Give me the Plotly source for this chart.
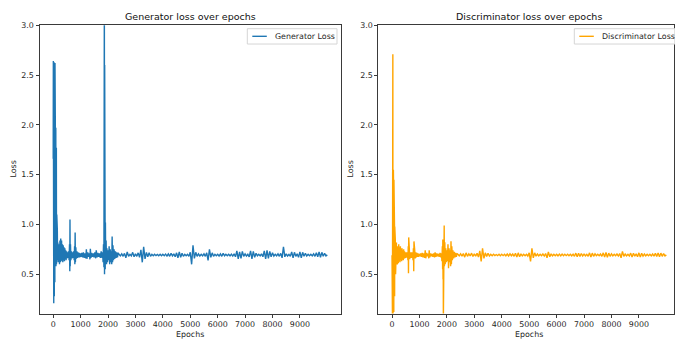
import plotly.graph_objects as go

# ---------------- data ----------------
gen_epochs_early = [0, 5, 10, 15, 20, 25, 30, 35, 40, 45, 50, 55, 60, 65, 70, 75, 80, 85, 90, 95,
                    100, 105, 110, 115, 120, 130, 140, 150, 160, 170, 180, 190,
                    200, 215, 230, 245, 260, 275, 290, 305, 320, 335, 350, 365, 380, 395, 410, 425, 440, 455,
                    470, 485, 500, 520, 540, 560, 580, 595, 605, 612, 620, 630, 645, 665, 685, 705, 725, 745,
                    765, 780, 790, 800, 810, 825, 845, 865, 885, 905, 925, 945, 965, 985,
                    1010, 1040, 1070, 1100, 1130, 1160, 1190, 1210, 1230, 1260, 1290, 1320, 1340, 1355, 1375,
                    1400, 1430, 1460, 1490, 1520, 1550, 1570, 1600, 1630, 1660, 1690, 1720, 1750, 1780, 1800,
                    1820, 1835, 1850, 1860, 1866, 1872, 1878, 1884, 1890, 1897, 1905, 1915, 1930, 1945, 1960,
                    1980, 2000, 2020, 2040, 2060, 2080, 2100, 2120, 2135, 2150, 2165, 2180, 2200, 2220, 2245,
                    2270, 2295, 2320, 2345, 2370]
gen_loss_early = [1.66, 2.64, 0.55, 2.63, 0.21, 2.63, 0.32, 2.62, 0.28, 2.62, 0.38, 2.61, 0.42, 2.62, 0.50, 2.10,
                  0.55, 1.60, 0.60, 1.97, 0.58, 1.30, 0.62, 1.77, 0.60, 1.10, 0.62, 0.95, 0.64, 0.82, 0.62, 0.80,
                  0.63, 0.80, 0.60, 0.84, 0.62, 0.86, 0.63, 0.84, 0.64, 0.80, 0.62, 0.79, 0.64, 0.77, 0.63, 0.76,
                  0.65, 0.74, 0.64, 0.73, 0.66, 0.72, 0.665, 0.73, 0.64, 0.80, 0.53, 1.05, 0.58, 0.80, 0.64, 0.73,
                  0.66, 0.72, 0.665, 0.73, 0.64, 0.78, 0.60, 0.92, 0.62, 0.77, 0.655, 0.73, 0.665, 0.72, 0.67,
                  0.715, 0.67, 0.71,
                  0.675, 0.715, 0.67, 0.72, 0.665, 0.71, 0.66, 0.75, 0.655, 0.72, 0.675, 0.71, 0.65, 0.755, 0.665,
                  0.715, 0.675, 0.71, 0.67, 0.72, 0.66, 0.74, 0.67, 0.715, 0.675, 0.71, 0.665, 0.73, 0.665, 0.72,
                  0.62, 0.80, 0.57, 1.30, 3.40, 0.50, 2.60, 0.60, 1.78, 0.55, 1.02, 0.60, 0.84, 0.60, 0.76,
                  0.62, 0.74, 0.64, 0.78, 0.60, 0.75, 0.62, 0.73, 0.60, 0.88, 0.62, 0.79, 0.64, 0.75, 0.655,
                  0.73, 0.665, 0.72, 0.67, 0.715]
gen_loss_late = [0.70, 0.685, 0.705, 0.68, 0.71, 0.665, 0.725, 0.68, 0.70, 0.685,
                 0.72, 0.675, 0.705, 0.68, 0.715, 0.67, 0.745, 0.62, 0.775, 0.655,
                 0.72, 0.675, 0.715, 0.68, 0.70, 0.685, 0.70, 0.687, 0.698, 0.686,
                 0.70, 0.685, 0.70, 0.686, 0.702, 0.683, 0.705, 0.68, 0.71, 0.685,
                 0.705, 0.675, 0.715, 0.665, 0.725, 0.67, 0.71, 0.68, 0.70, 0.685,
                 0.70, 0.68, 0.72, 0.60, 0.79, 0.66, 0.72, 0.68, 0.705, 0.683,
                 0.70, 0.685, 0.705, 0.68, 0.715, 0.64, 0.75, 0.67, 0.715, 0.68,
                 0.70, 0.685, 0.70, 0.683, 0.705, 0.68, 0.71, 0.685, 0.70, 0.686,
                 0.70, 0.685, 0.702, 0.683, 0.705, 0.675, 0.735, 0.655, 0.725, 0.66,
                 0.73, 0.68, 0.705, 0.683, 0.70, 0.675, 0.735, 0.655, 0.73, 0.67,
                 0.71, 0.685, 0.70, 0.684, 0.705, 0.675, 0.735, 0.655, 0.74, 0.66,
                 0.73, 0.675, 0.715, 0.683, 0.70, 0.685, 0.705, 0.68, 0.71, 0.665,
                 0.775, 0.675, 0.705, 0.683, 0.70, 0.68, 0.725, 0.665, 0.72, 0.68,
                 0.705, 0.67, 0.725, 0.665, 0.72, 0.68, 0.71, 0.683, 0.70, 0.685,
                 0.70, 0.684, 0.705, 0.68, 0.715, 0.675, 0.725, 0.67, 0.72, 0.68,
                 0.71, 0.685, 0.695]

disc_epochs_early = [0, 4, 8, 12, 16, 20, 25, 30, 35, 40, 45, 50, 55, 60, 65, 70, 75, 80, 85, 90, 95,
                     100, 105, 110, 115, 120, 130, 140, 150, 160, 170, 180, 190,
                     200, 215, 230, 245, 260, 275, 290, 305, 320, 335, 350, 365, 380, 395, 410, 425, 440, 455,
                     470, 485, 500, 520, 540, 560, 580, 592, 600, 608, 618, 630, 645, 665, 685, 705, 725, 745,
                     765, 780, 792, 800, 812, 825, 845, 865, 885, 905, 925, 945, 965, 985,
                     1010, 1040, 1070, 1100, 1130, 1160, 1190, 1210, 1230, 1260, 1290, 1320, 1340, 1355, 1375,
                     1400, 1430, 1460, 1490, 1520, 1550, 1570, 1600, 1630, 1660, 1690, 1720, 1750, 1780, 1800,
                     1820, 1835, 1845, 1852, 1860, 1866, 1872, 1880, 1888, 1895, 1902, 1910, 1925, 1940, 1960,
                     1980, 2000, 2020, 2040, 2060, 2080, 2100, 2120, 2135, 2150, 2165, 2180, 2200, 2220, 2245,
                     2270, 2295, 2320, 2345, 2370]
disc_loss_early = [0.69, 1.88, 0.12, 1.50, 0.05, 1.70, 0.08, 2.71, 0.06, 1.52, 0.10, 1.55, 0.14, 1.30, 0.12,
                   1.45, 0.20, 1.10, 0.25, 1.00, 0.28, 0.98, 0.30, 0.90, 0.45, 0.85, 0.50, 0.80, 0.55, 0.82,
                   0.60, 0.78, 0.60,
                   0.62, 0.78, 0.61, 0.80, 0.63, 0.77, 0.62, 0.78, 0.64, 0.76, 0.63, 0.76, 0.645, 0.74, 0.64,
                   0.75, 0.655, 0.73, 0.66, 0.72, 0.665, 0.72, 0.67, 0.72, 0.64, 0.78, 0.51, 0.87, 0.60, 0.76,
                   0.65, 0.72, 0.665, 0.72, 0.665, 0.72, 0.64, 0.76, 0.53, 0.83, 0.60, 0.75, 0.66, 0.72, 0.67,
                   0.715, 0.675, 0.71, 0.675, 0.705,
                   0.68, 0.71, 0.675, 0.715, 0.67, 0.71, 0.665, 0.74, 0.66, 0.715, 0.68, 0.705, 0.66, 0.74, 0.67,
                   0.71, 0.68, 0.705, 0.675, 0.71, 0.67, 0.72, 0.675, 0.71, 0.68, 0.705, 0.675, 0.715, 0.67, 0.71,
                   0.63, 0.78, 0.55, 0.85, 0.45, 0.70, 0.05, 0.60, 0.95, 0.50, 0.99, 0.58, 0.82, 0.60, 0.76,
                   0.62, 0.74, 0.63, 0.80, 0.56, 0.76, 0.62, 0.74, 0.58, 0.83, 0.60, 0.78, 0.64, 0.74, 0.66,
                   0.725, 0.67, 0.715, 0.675, 0.71]
disc_loss_late = [0.70, 0.685, 0.705, 0.682, 0.708, 0.672, 0.715, 0.68, 0.705, 0.684,
                  0.712, 0.678, 0.705, 0.682, 0.71, 0.672, 0.735, 0.63, 0.76, 0.66,
                  0.715, 0.678, 0.71, 0.683, 0.70, 0.686, 0.70, 0.688, 0.698, 0.687,
                  0.70, 0.686, 0.70, 0.687, 0.70, 0.685, 0.703, 0.684, 0.705, 0.686,
                  0.703, 0.68, 0.71, 0.672, 0.715, 0.675, 0.705, 0.684, 0.70, 0.686,
                  0.70, 0.683, 0.715, 0.63, 0.76, 0.665, 0.715, 0.682, 0.703, 0.685,
                  0.70, 0.686, 0.703, 0.683, 0.708, 0.665, 0.725, 0.675, 0.705, 0.684,
                  0.70, 0.686, 0.70, 0.685, 0.702, 0.684, 0.703, 0.686, 0.70, 0.687,
                  0.70, 0.686, 0.70, 0.685, 0.702, 0.68, 0.712, 0.675, 0.71, 0.678,
                  0.708, 0.684, 0.702, 0.685, 0.70, 0.68, 0.715, 0.672, 0.712, 0.68,
                  0.705, 0.686, 0.70, 0.686, 0.703, 0.68, 0.715, 0.672, 0.718, 0.67,
                  0.712, 0.68, 0.705, 0.685, 0.70, 0.686, 0.703, 0.683, 0.708, 0.665,
                  0.73, 0.68, 0.703, 0.685, 0.70, 0.683, 0.712, 0.672, 0.71, 0.682,
                  0.705, 0.675, 0.715, 0.672, 0.71, 0.683, 0.703, 0.685, 0.70, 0.686,
                  0.70, 0.685, 0.703, 0.682, 0.71, 0.678, 0.714, 0.675, 0.712, 0.68,
                  0.708, 0.684, 0.695]

late_epochs = list(range(2400, 10000, 50)) + [9999]

x_tick_vals = [0, 1000, 2000, 3000, 4000, 5000, 6000, 7000, 8000, 9000]
y_tick_vals = [0.5, 1.0, 1.5, 2.0, 2.5, 3.0]
y_tick_text = ["0.5", "1.0", "1.5", "2.0", "2.5", "3.0"]

series_names = ["Generator Loss", "Discriminator Loss"]
series_colors = ["#1f77b4", "#ffa500"]
panel_titles = ["Generator loss over epochs", "Discriminator loss over epochs"]

gen_x = gen_epochs_early + late_epochs
gen_y = gen_loss_early + gen_loss_late
disc_x = disc_epochs_early + late_epochs
disc_y = disc_loss_early + disc_loss_late

# ---------------- figure ----------------
W, H = 675, 339
FONT = "DejaVu Sans"
TXT = "#262626"
AX = "#3a3a3a"
LW = 1.4
FS = 7.9       # tick / label / legend font size
FT = 9.5       # title font size

fig = go.Figure()
fig.add_trace(go.Scatter(x=gen_x, y=gen_y, mode="lines", name=series_names[0],
                         line=dict(color=series_colors[0], width=LW), xaxis="x", yaxis="y",
                         showlegend=False))
fig.add_trace(go.Scatter(x=disc_x, y=disc_y, mode="lines", name=series_names[1],
                         line=dict(color=series_colors[1], width=LW), xaxis="x2", yaxis="y2",
                         showlegend=False))

ydom = [(H - 313.3) / H, (H - 21.5) / H]
common_x = dict(tickmode="array", tickvals=x_tick_vals, ticks="outside", ticklen=3, tickwidth=1,
                tickcolor=AX, showgrid=False, zeroline=False, showline=True, linecolor=AX, linewidth=1,
                mirror=True, tickfont=dict(family=FONT, size=FS, color=TXT))
common_y = dict(tickmode="array", tickvals=y_tick_vals, ticktext=y_tick_text, range=[0.105, 3.0],
                ticks="outside", ticklen=3, tickwidth=1, tickcolor=AX, showgrid=False, zeroline=False,
                showline=True, linecolor=AX, linewidth=1, mirror=True,
                tickfont=dict(family=FONT, size=FS, color=TXT), domain=ydom)

fig.update_layout(
    width=W, height=H,
    margin=dict(l=0, r=0, t=0, b=0),
    paper_bgcolor="white", plot_bgcolor="white",
    font=dict(family=FONT, color=TXT),
    xaxis=dict(common_x, domain=[39.5 / W, 341 / W], range=[-500, 10499]),
    yaxis=dict(common_y, anchor="x"),
    xaxis2=dict(common_x, domain=[378.3 / W, 674.3 / W], range=[-500, 10290]),
    yaxis2=dict(common_y, anchor="x2"),
    showlegend=False,
)

def px(xp):
    return xp / W

def py(yp):
    return (H - yp) / H

ann = []
shapes = []
for cx, t in zip((190, 529), panel_titles):
    ann.append(dict(text=t, x=px(cx), y=py(13), xref="paper", yref="paper",
                    showarrow=False, xanchor="center", yanchor="middle",
                    font=dict(family=FONT, size=FT, color="#111")))
for cx in (190, 529):
    ann.append(dict(text="Epochs", x=px(cx), y=py(334), xref="paper", yref="paper",
                    showarrow=False, xanchor="center", yanchor="middle",
                    font=dict(family=FONT, size=FS, color=TXT)))
for lx in (13.5, 350.5):
    ann.append(dict(text="Loss", x=px(lx), y=py(167), xref="paper", yref="paper",
                    showarrow=False, xanchor="center", yanchor="middle", textangle=-90,
                    font=dict(family=FONT, size=FS, color=TXT)))

# legend boxes (one per panel, upper right)
legend_boxes = [(247.3, 337.0), (574.3, 676.0)]
for (x0, x1), name, col in zip(legend_boxes, series_names, series_colors):
    shapes.append(dict(type="rect", xref="paper", yref="paper", x0=px(x0), x1=px(x1),
                       y0=py(40.5), y1=py(25.0), line=dict(color="#d5d5d5", width=1),
                       fillcolor="rgba(255,255,255,0.85)", layer="above"))
    shapes.append(dict(type="line", xref="paper", yref="paper", x0=px(x0 + 5), x1=px(x0 + 19.5),
                       y0=py(32.7), y1=py(32.7), line=dict(color=col, width=LW), layer="above"))
    ann.append(dict(text=name, x=px(x0 + 25.5), y=py(32.7), xref="paper", yref="paper",
                    showarrow=False, xanchor="left", yanchor="middle",
                    font=dict(family=FONT, size=FS, color=TXT)))

fig.update_layout(annotations=ann, shapes=shapes)

fig.write_html("out.html", config={"displayModeBar": False},
               post_script="document.body.style.margin='0px';")
